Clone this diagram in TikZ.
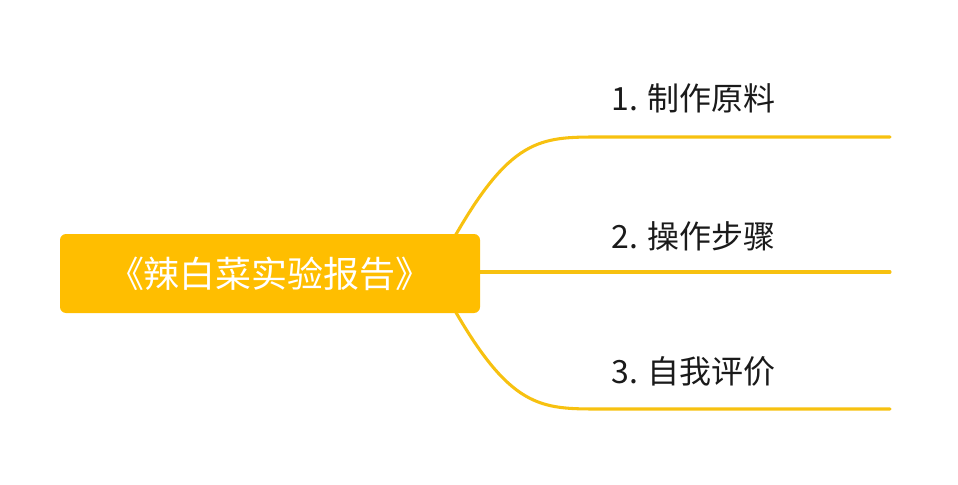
\documentclass[tikz,border=0pt]{standalone}
\usepackage{fontspec}
\setmainfont{Noto Sans CJK SC}
\usetikzlibrary{calc}
\definecolor{rootfill}{HTML}{FFBE00}
\definecolor{branchcol}{HTML}{F7C110}
\definecolor{labelcol}{HTML}{1A1A1A}
\tikzset{
  rootbox/.style={fill=rootfill, rounded corners=4.5pt, minimum width=315pt, minimum height=59.25pt, inner sep=0pt, text=white, font=\fontsize{27}{31}\selectfont},
  branchlabel/.style={inner sep=0pt, text=labelcol, font=\fontsize{24}{28}\selectfont},
  branchline/.style={draw=branchcol, line width=2.3pt, line cap=round},
}
\begin{document}
\begin{tikzpicture}[x=0.75pt,y=-0.75pt]
\useasboundingbox (0,0) rectangle (958,485);
\coordinate (s1) at (450,245);
\coordinate (k1) at (600,137);
\coordinate (e1) at (890,137);
\coordinate (s2) at (470,272);
\coordinate (e2) at (890,272);
\coordinate (s3) at (450,302);
\coordinate (k3) at (600,409);
\coordinate (e3) at (890,409);
\draw[branchline] (s1) .. controls (510,137) and (540,137) .. (k1) -- (e1);
\draw[branchline] (s2) -- (e2);
\draw[branchline] (s3) .. controls (510,409) and (540,409) .. (k3) -- (e3);
\node[rootbox] (root) at (270,273.5) {《辣白菜实验报告》};
\node[branchlabel, anchor=west] (l1) at (611,98) {1. 制作原料};
\node[branchlabel, anchor=west] (l2) at (611,236) {2. 操作步骤};
\node[branchlabel, anchor=west] (l3) at (611,371) {3. 自我评价};
\end{tikzpicture}
\end{document}
